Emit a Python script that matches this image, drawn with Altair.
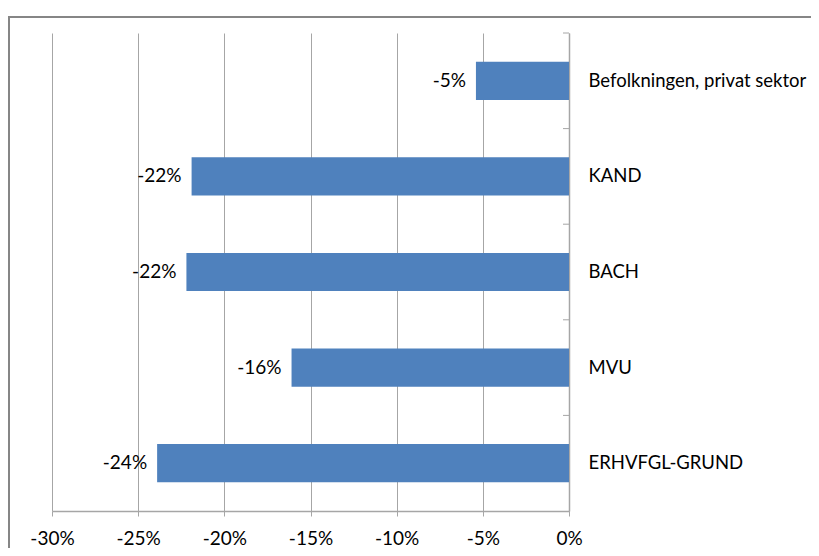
import altair as alt
import pandas as pd

categories = ["Befolkningen, privat sektor", "KAND", "BACH", "MVU", "ERHVFGL-GRUND"]
values = [-0.054, -0.219, -0.222, -0.161, -0.239]
labels = ["-5%", "-22%", "-22%", "-16%", "-24%"]
x_ticks = [-0.30, -0.25, -0.20, -0.15, -0.10, -0.05, 0.0]

df = pd.DataFrame({"cat": categories, "val": values, "lab": labels})

W, H = 517, 478
FONT = "Lato"
STEP = H / 5

y_enc = alt.Y("cat:N", sort=categories,
              scale=alt.Scale(paddingInner=0.6, paddingOuter=0.3),
              axis=alt.Axis(orient="right", title=None, ticks=False, grid=False,
                            domainColor="#A6A6A6", domainWidth=1.5,
                            labelPadding=19, labelFont=FONT, labelFontSize=18.5,
                            labelColor="#000000", labelLimit=300))

x_enc = alt.X("val:Q",
              scale=alt.Scale(domain=[-0.30, 0.0], nice=False),
              axis=alt.Axis(title=None, format=".0%", values=x_ticks,
                            labelExpr="replace(datum.label, '\u2212', '-')",
                            labelFlush=False,
                            grid=True, gridColor="#A6A6A6", gridWidth=1,
                            domainColor="#A6A6A6", domainWidth=1.5,
                            tickColor="#A6A6A6", tickSize=5,
                            labelPadding=13, labelFont=FONT, labelFontSize=19,
                            labelColor="#000000"))

bars = alt.Chart(df).mark_bar(color="#4F81BD").encode(x=x_enc, y=y_enc)

text = alt.Chart(df).mark_text(align="right", baseline="middle", dx=-10,
                               font=FONT, fontSize=19, color="#000000").encode(
    x="val:Q", y=alt.Y("cat:N", sort=categories), text="lab:N")

yticks = alt.Chart(df).mark_rule(color="#A6A6A6", strokeWidth=1).encode(
    y=alt.Y("cat:N", sort=categories),
    yOffset=alt.value(-0.3 * STEP),
    x=alt.value(W - 6), x2=alt.value(W))

frame_df = pd.DataFrame({"a": [0]})
frame_left = alt.Chart(frame_df).mark_rule(color="#868686", strokeWidth=2).encode(
    x=alt.value(-43), y=alt.value(-16), y2=alt.value(H + 60))
frame_top = alt.Chart(frame_df).mark_rule(color="#868686", strokeWidth=2).encode(
    y=alt.value(-16), x=alt.value(-44), x2=alt.value(W + 300))

chart = alt.layer(bars, text, yticks, frame_left, frame_top).properties(
    width=W, height=H,
    padding={"left": 44, "top": 25, "right": 242, "bottom": 37},
    autosize=alt.AutoSizeParams(type="none"),
).configure_view(stroke="transparent")

chart.save("out.html", embed_options={"renderer": "svg", "actions": False})
